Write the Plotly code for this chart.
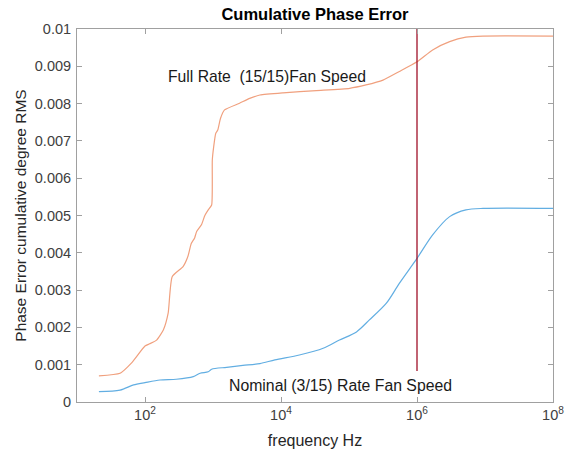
import plotly.graph_objects as go

# Full rate (15/15) fan speed: frequency (Hz) and cumulative phase error (deg RMS)
full_freq = [21, 43, 63, 100, 117, 148, 186, 219, 251, 363, 427, 479, 537,
             575, 676, 759, 851, 955, 977, 1023, 1096, 1175, 1288, 1479,
             2455, 3467, 4898, 10715, 33113, 102329, 177828, 316228, 549541,
             1000000, 1698244, 3019952, 5248075, 9332543, 100000000]
full_val = [0.00070, 0.00077, 0.00104, 0.00150, 0.00156, 0.00166, 0.00193,
            0.00238, 0.00336, 0.00363, 0.00390, 0.00425, 0.00440, 0.00457,
            0.00475, 0.00500, 0.00515, 0.00528, 0.00649, 0.00684, 0.00720,
            0.00729, 0.00760, 0.00783, 0.00801, 0.00814, 0.00823, 0.00829,
            0.00835, 0.00841, 0.00850, 0.00863, 0.00886, 0.00912, 0.00944,
            0.00966, 0.00978, 0.00981, 0.00981]

# Nominal (3/15) rate fan speed
nom_freq = [21, 43, 68, 100, 166, 288, 513, 646, 851, 955, 1585, 2754, 4898,
            8128, 18621, 41687, 72444, 128825, 199526, 354813, 549541,
            1000000, 1698244, 3019952, 5248075, 9332543, 100000000]
nom_val = [0.00028, 0.00032, 0.00046, 0.00052, 0.00059, 0.00061, 0.00068,
           0.00077, 0.00081, 0.00088, 0.00093, 0.00098, 0.00103, 0.00113,
           0.00126, 0.00144, 0.00166, 0.00188, 0.00220, 0.00265, 0.00318,
           0.00385, 0.00448, 0.00497, 0.00515, 0.00519, 0.00519]

marker_freq = [1e6, 1e6]
marker_val = [0.00083, 0.01]

x_tick_vals = [1e2, 1e4, 1e6, 1e8]
x_tick_text = ["10<sup>2</sup>", "10<sup>4</sup>", "10<sup>6</sup>", "10<sup>8</sup>"]
y_tick_vals = [0, 0.001, 0.002, 0.003, 0.004, 0.005, 0.006, 0.007, 0.008, 0.009, 0.01]
y_tick_text = ["0", "0.001", "0.002", "0.003", "0.004", "0.005", "0.006",
               "0.007", "0.008", "0.009", "0.01"]

fig = go.Figure()
fig.add_trace(go.Scatter(x=full_freq, y=full_val, mode="lines",
                         line=dict(color="#F0A07E", width=1.2, shape="spline", smoothing=0.5),
                         showlegend=False))
fig.add_trace(go.Scatter(x=nom_freq, y=nom_val, mode="lines",
                         line=dict(color="#62AEE2", width=1.2, shape="spline", smoothing=0.8),
                         showlegend=False))
fig.add_trace(go.Scatter(x=marker_freq, y=marker_val, mode="lines",
                         line=dict(color="#A01028", width=1.3), showlegend=False))

font_family = "Liberation Sans, Arial, sans-serif"

fig.add_annotation(x=3.79, y=0.00874, xref="x", yref="y", text="Full Rate  (15/15)Fan Speed",
                   showarrow=False, font=dict(family=font_family, size=15.7, color="#1a1a1a"))
fig.add_annotation(x=4.88, y=0.00043, xref="x", yref="y", text="Nominal (3/15) Rate Fan Speed",
                   showarrow=False, font=dict(family=font_family, size=15.8, color="#1a1a1a"))

axis_common = dict(showline=True, linecolor="#a0a0a0", linewidth=1, mirror="ticks",
                   ticks="inside", ticklen=5, tickcolor="#a0a0a0", showgrid=False,
                   zeroline=False, automargin=False,
                   tickfont=dict(family=font_family, size=14.5, color="#404040"))

fig.update_xaxes(type="log", range=[1, 8], tickvals=x_tick_vals, ticktext=x_tick_text,
                 title=dict(text="frequency Hz", font=dict(family=font_family, size=16, color="#262626"),
                            standoff=12),
                 **axis_common)
fig.update_yaxes(range=[0, 0.01], tickvals=y_tick_vals, ticktext=y_tick_text,
                 ticklabelstandoff=2,
                 title=dict(text="Phase Error cumulative degree RMS",
                            font=dict(family=font_family, size=15.5, color="#262626"), standoff=4),
                 **axis_common)

fig.update_layout(
    width=568, height=456,
    margin=dict(l=77, r=15, t=29, b=54),
    paper_bgcolor="white", plot_bgcolor="white",
    title=dict(text="<b>Cumulative Phase Error</b>", x=315 / 568, xanchor="center",
               y=1 - 14 / 456, yanchor="middle",
               font=dict(family=font_family, size=16.5, color="#000000")),
)

# remove the default page margin so the 568x456 figure fills the window exactly
fig.write_html("out.html", config={"displayModeBar": False},
               post_script="document.body.style.margin='0';document.body.style.overflow='hidden';")
